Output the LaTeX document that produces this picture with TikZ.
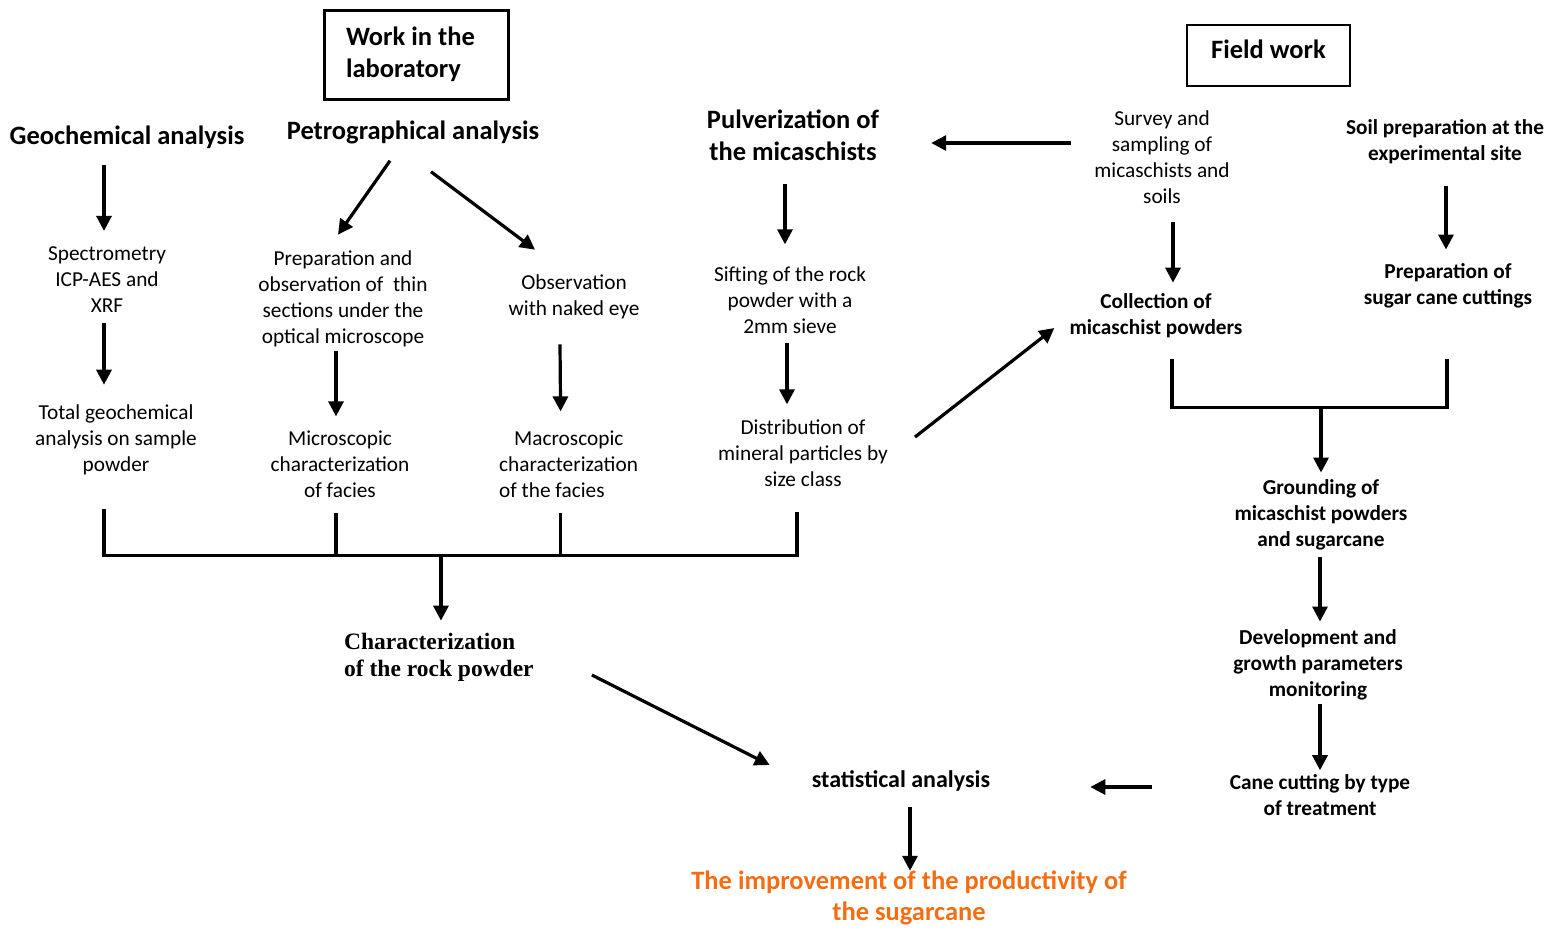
\documentclass[tikz,border=0pt]{standalone}
\usepackage{fontspec}
\setmainfont{Carlito}
\newfontfamily\timesf{Liberation Serif}
\usetikzlibrary{arrows.meta,calc}
\definecolor{orng}{RGB}{244,109,18}
\begin{document}
\begin{tikzpicture}[x=1pt,y=-1pt,
  reg/.style={font=\fontsize{21.3}{26}\selectfont, align=center, inner sep=0pt},
  bld/.style={font=\fontsize{21.3}{26}\selectfont\bfseries, align=center, inner sep=0pt},
  head/.style={font=\fontsize{26.5}{32}\selectfont\bfseries, align=center, inner sep=0pt},
  arr/.style={line width=3.2pt, -{Triangle[width=15pt,length=15pt]}},
  brk/.style={line width=3.5pt, line join=miter}]
\useasboundingbox (0,0) rectangle (1561,930);

% boxes
\node[draw, line width=3pt, minimum width=184pt, minimum height=89pt, text width=140pt, align=flush left, inner sep=0pt,
  font=\fontsize{26.5}{32}\selectfont\bfseries] (lab) at (416,54.5) {Work in the\\laboratory};
\node[draw, line width=1.5pt, minimum width=163pt, minimum height=61pt, inner sep=0pt, text depth=12pt,
  font=\fontsize{26.5}{32}\selectfont\bfseries] (field) at (1268.5,55.5) {Field work};

% headings
\node[head] (geo) at (127,137) {Geochemical analysis};
\node[head] (petro) at (413,132) {Petrographical analysis};
\node[head] (pulv) at (793,135) {Pulverization of\\the micaschists};

% regular text
\node[reg] (spec) at (107,280) {Spectrometry\\ICP-AES and\\XRF};
\node[reg] (tot) at (116,440) {Total geochemical\\analysis on sample\\powder};
\node[reg] (prep) at (343,299) {Preparation and\\observation of\ \ thin\\sections under the\\optical microscope};
\node[reg] (micro) at (340,464) {Microscopic\\characterization\\of facies};
\node[reg] (obs) at (574,297) {Observation\\with naked eye};
\node[reg, align=left, anchor=west] (macro) at (499,464) {\hspace*{15pt}Macroscopic\\characterization\\of the facies};
\node[reg] (sift) at (790,300) {Sifting of the rock\\powder with a\\2mm sieve};
\node[reg] (dist) at (803,453) {Distribution of\\mineral particles by\\size class};
\node[reg] (survey) at (1162,157) {Survey and\\sampling of\\micaschists and\\soils};

% bold text
\node[bld] (soil) at (1445,142) {Soil preparation at the\\experimental site};
\node[bld] (coll) at (1156,316) {Collection of\\micaschist powders};
\node[bld] (sugar) at (1448,286) {Preparation of\\sugar cane cuttings};
\node[bld] (ground) at (1321,515) {Grounding of\\micaschist powders\\and sugarcane};
\node[bld] (dev) at (1318,665) {Development and\\growth parameters\\monitoring};
\node[bld] (cane) at (1320,795) {Cane cutting by type\\of treatment};
\node[bld, font=\fontsize{24}{28}\selectfont\bfseries] (stat) at (901,781) {statistical analysis};

\node[font=\fontsize{23.5}{27}\selectfont\timesf\bfseries, align=left, inner sep=0pt, anchor=west] (charac) at (344,657) {Characterization\\of the rock powder};
\node[font=\fontsize{26.5}{31}\selectfont\bfseries, text=orng, align=center, inner sep=0pt] (impr) at (909,898) {The improvement of the productivity of\\the sugarcane};

% arrows
\draw[arr] ([shift={(-23pt,-16pt)}]geo.south) -- ([shift={(-3pt,16pt)}]spec.north);
\draw[arr] ([shift={(-3pt,-10pt)}]spec.south) -- ([shift={(-12pt,20pt)}]tot.north);
\draw[arr] ([shift={(-23pt,-17pt)}]petro.south) -- ([shift={(-5pt,16pt)}]prep.north);
\draw[arr] ([shift={(18pt,-28pt)}]petro.south) -- ([shift={(-39pt,25pt)}]obs.north);
\draw[arr] ([shift={(-7pt,-4pt)}]prep.south) -- ([shift={(-4pt,14pt)}]micro.north);
\draw[arr] ([shift={(-14pt,-25pt)}]obs.south) -- ([shift={(-8pt,19pt)}]macro.north);
\draw[arr] ([shift={(-8pt,-23pt)}]pulv.south) -- ([shift={(-5pt,22pt)}]sift.north);
\draw[arr] ([shift={(-3pt,-9pt)}]sift.south) -- ([shift={(-16pt,15pt)}]dist.north);
\draw[arr] ([shift={(-23pt,14pt)}]survey.west) -- ([shift={(52pt,-8pt)}]pulv.east);
\draw[arr] ([shift={(11pt,-18pt)}]survey.south) -- ([shift={(17pt,11pt)}]coll.north);
\draw[arr] ([shift={(1pt,-22pt)}]soil.south) -- ([shift={(-2pt,14pt)}]sugar.north);
\draw[arr] ([shift={(27pt,16pt)}]dist.east) -- ([shift={(-15pt,-12pt)}]coll.west);
\draw[arr] ([shift={(58pt,-18pt)}]charac.east) -- ([shift={(-42pt,16pt)}]stat.west);
\draw[arr] ([shift={(-78pt,8pt)}]cane.west) -- ([shift={(100pt,-6pt)}]stat.east);
\draw[arr] ([shift={(9pt,-15pt)}]stat.south) -- ([shift={(1pt,0pt)}]impr.north);
\draw[arr] ([shift={(-1pt,-7pt)}]ground.south) -- ([shift={(2pt,8pt)}]dev.north);
\draw[arr] ([shift={(2pt,-4pt)}]dev.south) -- ([shift={(0pt,4pt)}]cane.north);

% left bracket
\coordinate (L1) at ([shift={(-12pt,-34pt)}]tot.south);
\coordinate (L2) at ([shift={(-4pt,-15pt)}]micro.south);
\coordinate (L3) at ([shift={(-8pt,-15pt)}]macro.south);
\coordinate (L4) at ([shift={(-6pt,-25pt)}]dist.south);
\draw[brk] (L1) -- ++(0,46) coordinate (Lb) -| (L4);
\draw[brk] (L2) -- (L2 |- Lb);
\draw[brk] (L3) -- (L3 |- Lb);
\draw[arr] ([xshift=2pt]Lb -| charac.north) -- ([shift={(2pt,12pt)}]charac.north);

% right bracket
\coordinate (R1) at ([shift={(16pt,-21pt)}]coll.south);
\coordinate (R2) at ([shift={(-1pt,-50pt)}]sugar.south);
\draw[brk] (R1) -- ++(0,48) coordinate (Rb) -| (R2);
\draw[arr] (Rb -| ground.north) -- ([yshift=7pt]ground.north);
\end{tikzpicture}
\end{document}
